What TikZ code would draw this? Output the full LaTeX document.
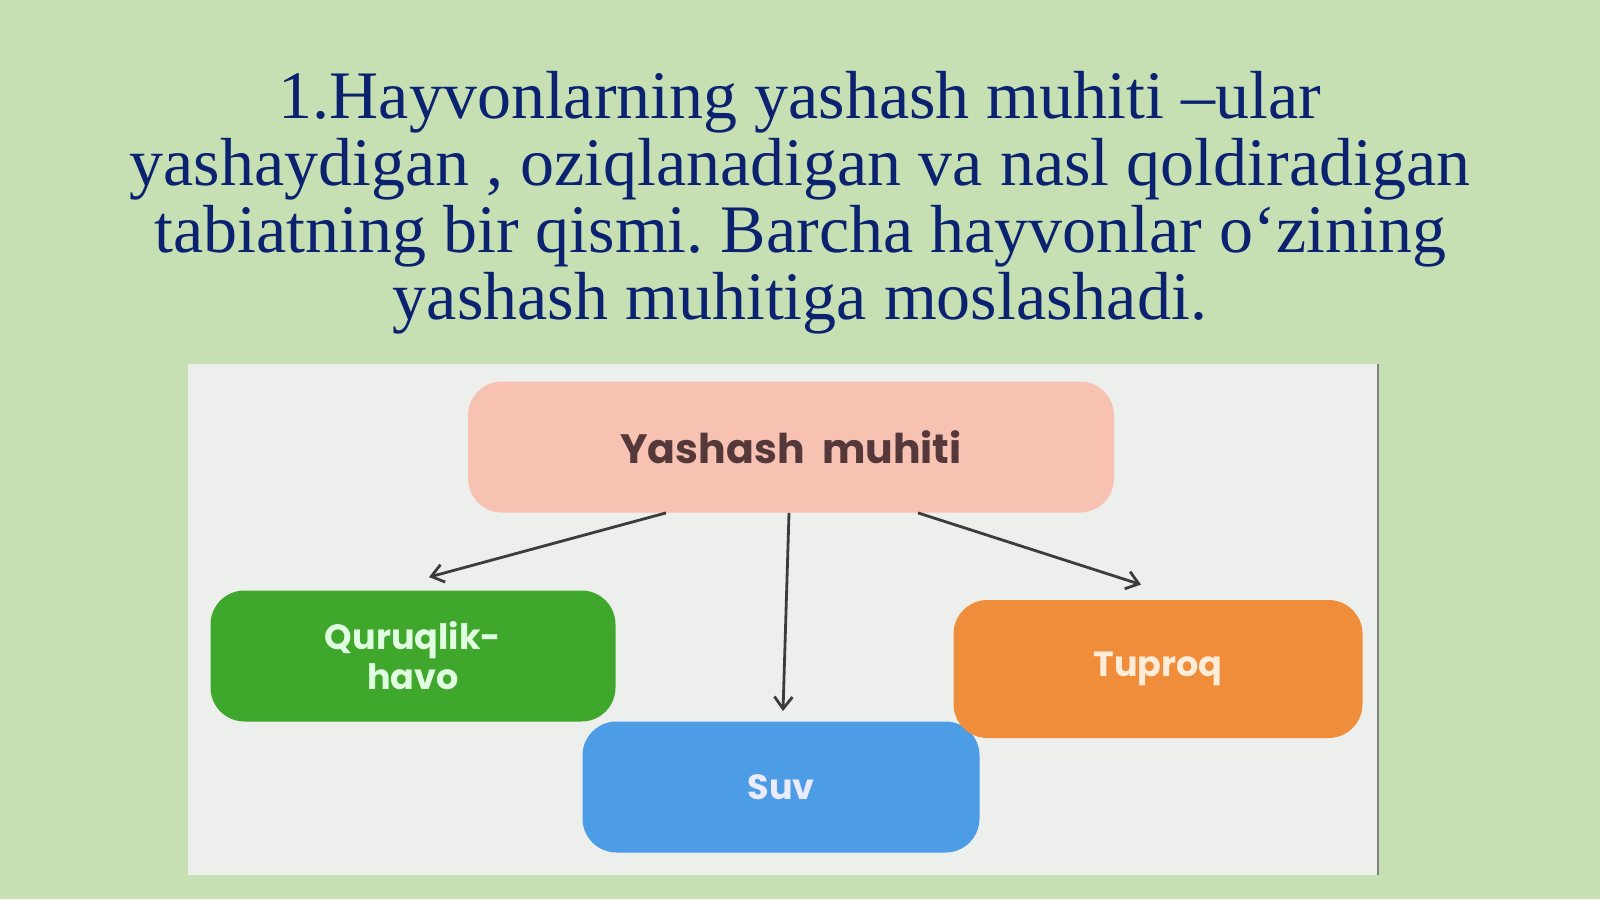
\documentclass[tikz,border=0pt]{standalone}
\usepackage{fontspec}
\setmainfont{Liberation Serif}
\newfontfamily\boxfont{Poppins}
\usetikzlibrary{arrows.meta}
\definecolor{bggreen}{HTML}{C6E0B4}
\definecolor{navy}{HTML}{0B2270}
\definecolor{panelgrey}{HTML}{EDEFED}
\definecolor{pinkbox}{HTML}{F7C2B2}
\definecolor{greenbox}{HTML}{3FA72B}
\definecolor{bluebox}{HTML}{4D9CE6}
\definecolor{orangebox}{HTML}{F08D3B}
\definecolor{browntext}{HTML}{54383A}
\definecolor{arrowgrey}{HTML}{3C3C3C}
\frenchspacing
\begin{document}
\begin{tikzpicture}[x=0.5pt, y=-0.5pt,
    habitat/.style={rounded corners=17pt, minimum height=65.5pt, inner sep=0pt,
        font=\boxfont\bfseries\fontsize{17.5}{20}\selectfont, align=center},
    arr/.style={draw=arrowgrey, line width=1.4pt, -{Straight Barb[length=6pt, width=9pt]}}]
    \fill[bggreen] (0,0) rectangle (1600,899);
    \useasboundingbox (0,0) rectangle (1600,899);
    \fill[panelgrey] (188,364) rectangle (1378,875);
    \draw[gray, line width=1pt] (1378,364) -- (1378,875);
    % title
    \node[text=navy, align=center, font=\fontsize{34}{33.5}\selectfont] (title) at (800,203)
        {1.Hayvonlarning yashash muhiti –ular\\
         yashaydigan , oziqlanadigan va nasl qoldiradigan\\
         tabiatning bir qismi. Barcha hayvonlar o‘zining\\
         yashash muhitiga moslashadi.};
    % boxes
    \node[habitat, fill=pinkbox, text=browntext, minimum width=323pt,
        font=\boxfont\bfseries\fontsize{20.5}{24}\selectfont] (yash) at (791,447) {Yashash\ \ muhiti};
    \node[habitat, fill=greenbox, text=green!12, minimum width=202.5pt] (quru) at (413,656) {Quruqlik-\\havo};
    \node[habitat, fill=bluebox, text=blue!8, minimum width=198.5pt] (suv) at (781,787) {Suv};
    \node[habitat, fill=orangebox, text=orange!15, minimum width=204.5pt, minimum height=69pt] (tup) at (1158,669) {Tuproq};
    % arrows
    \draw[arr] ([xshift=-62.5pt]yash.south) -- ([xshift=8pt, yshift=6.5pt]quru.north);
    \draw[arr] ([xshift=-1pt]yash.south) -- ([xshift=1pt, yshift=5pt]suv.north);
    \draw[arr] ([xshift=63.5pt]yash.south) -- ([xshift=-8.5pt, yshift=7.5pt]tup.north);
\end{tikzpicture}
\end{document}
